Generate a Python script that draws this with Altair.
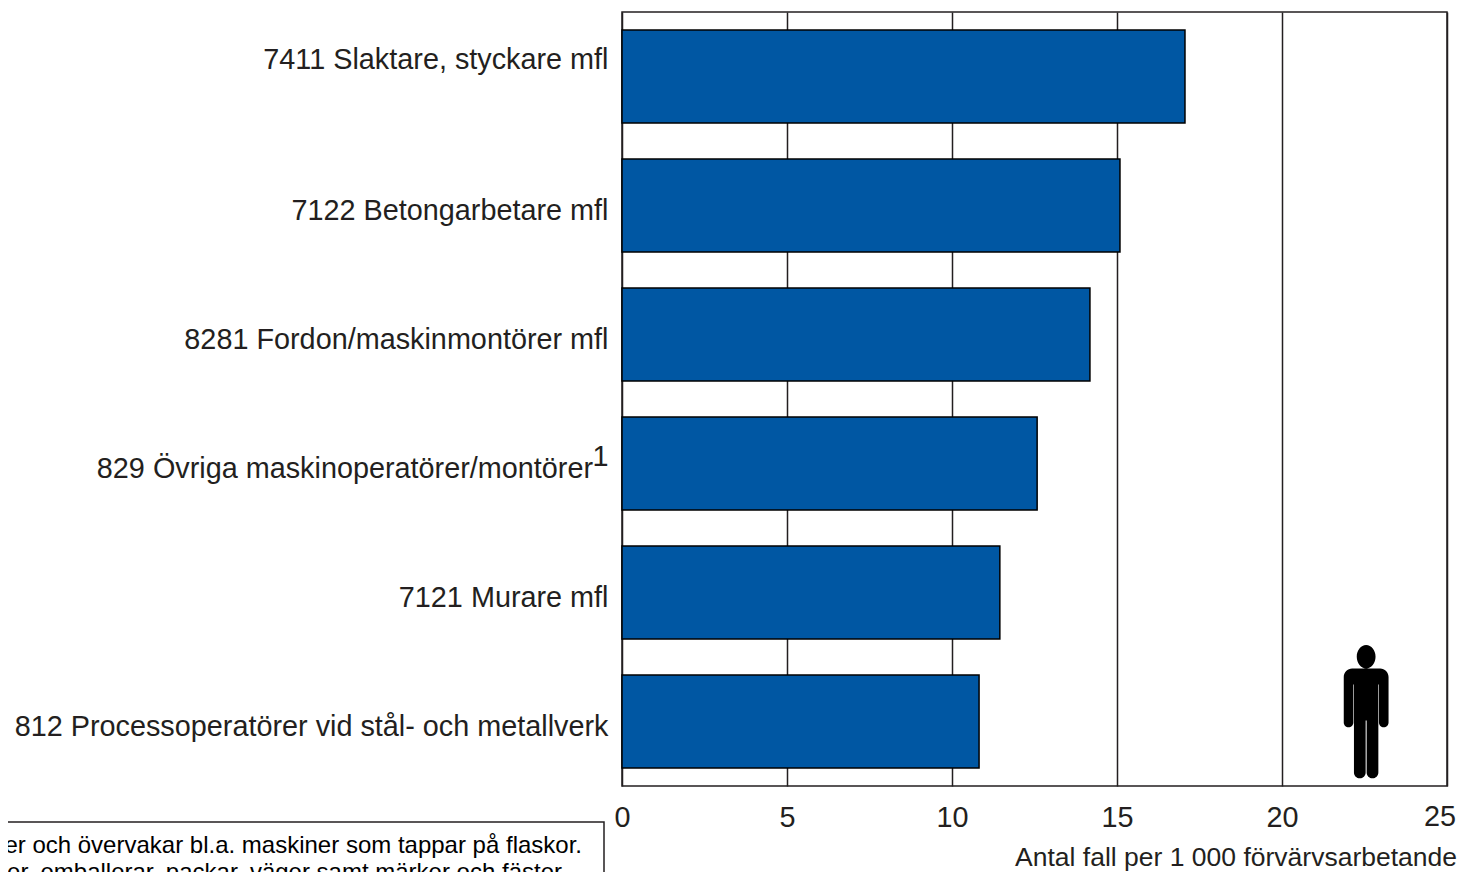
import altair as alt
import pandas as pd

categories = ["7411 Slaktare, styckare mfl", "7122 Betongarbetare mfl", "8281 Fordon/maskinmontörer mfl",
              "829 Övriga maskinoperatörer/montörer", "7121 Murare mfl",
              "812 Processoperatörer vid stål- och metallverk"]
values = [17.06, 15.09, 14.18, 12.58, 11.45, 10.82]
footnote_lines = ["ter och övervakar bl.a. maskiner som tappar på flaskor.",
                  "er, emballerar, packar, väger samt märker och fäster"]
axis_title = "Antal fall per 1 000 förvärvsarbetande"
marker = "1"
last_tick = 25

FONT = "Liberation Sans"
INK = "#231f20"
BLUE = "#0057a3"
FS = 28.8
PERSON = ("M-14,-43 L14,-43 A8.4,8.4 0 0 1 22.4,-34.6 L22.4,11 A4.8,4.8 0 0 1 12.8,11 L12.8,-27 L12.2,-27 "
          "L12.2,61 A5.85,5.85 0 0 1 0.5,61 L0.5,9 L-0.5,9 L-0.5,61 A5.85,5.85 0 0 1 -12.2,61 L-12.2,-27 "
          "L-12.8,-27 L-12.8,11 A4.8,4.8 0 0 1 -22.4,11 L-22.4,-34.6 A8.4,8.4 0 0 1 -14,-43 Z "
          "M0,-66.5 A9.4,11.7 0 1 1 0,-43.1 A9.4,11.7 0 1 1 0,-66.5 Z")

df = pd.DataFrame({"cat": categories, "val": values})
y_enc = alt.Y("cat:N", sort=None, axis=None,
              scale=alt.Scale(domain=categories, paddingInner=36 / 129, paddingOuter=18 / 129))
x_scale = alt.Scale(domain=[0, 25], nice=False)

box = alt.Chart(pd.DataFrame({"a": [0]})).mark_rect(fill="white", stroke=INK, strokeWidth=1.5).encode(
    x=alt.value(-640), x2=alt.value(-18), y=alt.value(810), y2=alt.value(900))


def note(line, xpx, ypx):
    return alt.Chart(pd.DataFrame({"t": [line]})).mark_text(
        align="right", baseline="middle", font=FONT, fontSize=24, color="black").encode(
        x=alt.value(xpx), y=alt.value(ypx), text="t:N")


notes = note(footnote_lines[0], -40, 834) + note(footnote_lines[1], -60, 861)

bars = alt.Chart(df).mark_bar(color=BLUE, stroke="black", strokeWidth=1.5).encode(
    x=alt.X("val:Q", scale=x_scale, axis=alt.Axis(
        values=[0, 5, 10, 15, 20, 25], format="d", grid=True, gridColor=INK, gridWidth=1.5,
        labelExpr=f"datum.value == {last_tick} ? '' : datum.label",
        domain=False, ticks=False, labelFont=FONT, labelFontSize=FS, labelColor=INK, labelPadding=31,
        labelBaseline="middle", labelFlush=False, labelOverlap=False,
        title=axis_title, titleFont=FONT, titleFontSize=26.5, titleFontWeight="normal", titleColor=INK,
        titleAlign="right", titleBaseline="middle", titleX=834.5, titleY=71, titleAnchor="end")),
    y=y_enc)

end_label = alt.Chart(pd.DataFrame({"x": [last_tick]})).mark_text(
    align="right", baseline="middle", font=FONT, fontSize=FS, color=INK, dx=9).encode(
    x=alt.X("x:Q", scale=x_scale), y=alt.value(805), text="x:Q")


def labels(expr, dx, dy):
    return alt.Chart(df).transform_filter(expr).mark_text(
        align="right", baseline="middle", font=FONT, fontSize=FS, color=INK, dy=dy).encode(
        x=alt.value(dx), y=y_enc, text="cat:N")


first = labels(f"datum.cat == '{categories[0]}'", -13.5, -16.5)
fourth = labels(f"datum.cat == '{categories[3]}'", -29, 5.5)
rest = labels(f"datum.cat != '{categories[0]}' && datum.cat != '{categories[3]}'", -13.5, 5.5)
sup = alt.Chart(df).transform_filter(f"datum.cat == '{categories[3]}'").transform_calculate(m=f"'{marker}'").mark_text(
    align="right", baseline="middle", font=FONT, fontSize=FS, color=INK, dy=-6.5).encode(
    x=alt.value(-13.5), y=y_enc, text="m:N")

person = alt.Chart(pd.DataFrame({"x": [22.55]})).mark_point(
    shape=PERSON, size=4, filled=True, fill="black", opacity=1, strokeWidth=0).encode(
    x=alt.X("x:Q", scale=x_scale), y=alt.value(699.5))

chart = alt.layer(box, notes, bars, end_label, first, fourth, rest, sup, person).properties(
    width=825, height=774,
    padding={"left": 614, "top": 4, "right": 10, "bottom": 86},
    autosize=alt.AutoSizeParams(type="none"),
    background="white",
).configure_view(stroke=INK, strokeWidth=1.5)

chart.save("out.html", embed_options={"renderer": "svg", "actions": False})
